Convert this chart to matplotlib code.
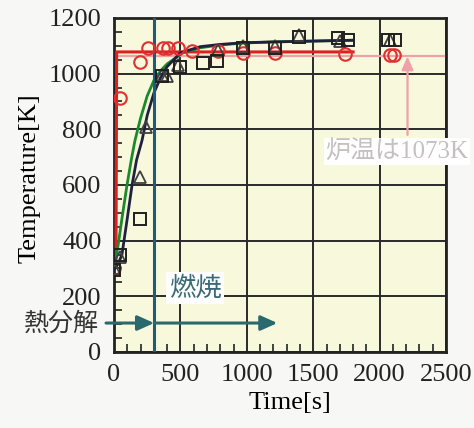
import numpy as np
import matplotlib.pyplot as plt

plt.rcParams['font.family'] = ['Liberation Serif', 'Noto Sans CJK JP']

# 測定値
t_circle = [0, 45, 196, 256, 370, 407, 483, 590, 785, 973, 1214, 1742, 2080, 2110]
T_circle = [300, 913, 1043, 1093, 1093, 1093, 1093, 1080, 1080, 1075, 1075, 1070, 1068, 1068]

t_square = [0, 45, 196, 362, 498, 671, 777, 973, 1214, 1395, 1690, 1765, 2066, 2119]
T_square = [295, 350, 478, 990, 1025, 1040, 1044, 1093, 1093, 1133, 1129, 1122, 1122, 1122]

t_tri = [0, 45, 196, 240, 362, 400, 483, 785, 973, 1214, 1395, 1700, 2080]
T_tri = [300, 340, 630, 810, 995, 990, 1030, 1085, 1098, 1098, 1138, 1118, 1122]

# 計算値
t_black = [0, 30, 60, 100, 136, 170, 211, 250, 300, 350, 400, 500, 650, 800, 973, 1200, 1400, 1600, 1800]
T_black = [295, 315, 350, 480, 600, 690, 760, 850, 930, 985, 1025, 1075, 1097, 1105, 1111, 1114, 1116, 1118, 1120]
t_green = [0, 30, 60, 98, 130, 158, 200, 250, 300, 350, 400, 475, 520, 650, 800, 973, 1200, 1400, 1600, 1800]
T_green = [300, 380, 480, 600, 690, 760, 840, 920, 975, 1010, 1035, 1060, 1075, 1093, 1103, 1110, 1114, 1116, 1118, 1120]
t_red = [0, 15, 20, 1800]
T_red = [300, 330, 1078, 1078]

furnace_T = 1062
t_switch = 302

fig = plt.figure(figsize=(4.74, 4.28), dpi=100)
fig.patch.set_facecolor('#f7f7f5')
ax = fig.add_axes([0.2405, 0.1776, 0.7005, 0.7804])
ax.set_facecolor('#f8f8dc')

ax.axhline(furnace_T, color='#f0a0a8', lw=1.6, zorder=2)
ax.plot(t_red, T_red, color='#e02020', lw=2.2, zorder=3)
ax.plot(t_green, T_green, color='#1a8a2a', lw=2.0, zorder=4)
ax.plot(t_black, T_black, color='#202040', lw=2.0, zorder=4)

ax.plot(t_circle, T_circle, 'o', ms=9, mfc='none', mec='#e03030', mew=1.5, zorder=5)
ax.plot(t_tri, T_tri, '^', ms=9, mfc='none', mec='#404040', mew=1.3, zorder=5)
ax.plot(t_square, T_square, 's', ms=9, mfc='none', mec='#202020', mew=1.4, zorder=5)

ax.axvline(t_switch, color='#1f5c78', lw=2.2, zorder=4)

# 矢印
ax.annotate('', xy=(t_switch, 104), xytext=(-60, 104), annotation_clip=False,
            arrowprops=dict(arrowstyle='-|>,head_length=1.0,head_width=0.45',
                            color='#2a6a6e', lw=2.2, shrinkA=0, shrinkB=0), zorder=6)
ax.annotate('', xy=(1230, 104), xytext=(t_switch, 104),
            arrowprops=dict(arrowstyle='-|>,head_length=1.0,head_width=0.45',
                            color='#2a6a6e', lw=2.2, shrinkA=0, shrinkB=0), zorder=6)
ax.text(611, 230, '燃焼', family=['Noto Sans CJK JP'], fontsize=19, color='#3a6a78',
        ha='center', va='center', zorder=6,
        bbox=dict(facecolor='white', edgecolor='none', pad=2))
ax.text(-115, 100, '熱分解', family=['Noto Sans CJK JP'], fontsize=18, color='#333333',
        ha='right', va='center', zorder=6)

ax.annotate('', xy=(2210, furnace_T), xytext=(2210, 780),
            arrowprops=dict(arrowstyle='-|>,head_length=0.8,head_width=0.35',
                            color='#f0a0a8', lw=1.6, shrinkA=0, shrinkB=0), zorder=6)
ax.text(1590, 720, '炉温は1073K', family=['Liberation Serif', 'Noto Sans CJK JP'],
        fontsize=18, color='#c4c0c0', ha='left', va='center', zorder=7, clip_on=False,
        bbox=dict(facecolor='white', edgecolor='none', pad=1))

ax.set_xlim(0, 2500)
ax.set_ylim(0, 1200)
ax.set_xticks(np.arange(0, 2501, 500))
ax.set_yticks(np.arange(0, 1201, 200))
ax.set_xticks(np.arange(0, 2501, 100), minor=True)
ax.set_yticks(np.arange(0, 1201, 50), minor=True)
ax.grid(True, which='major', color='#2a2a2a', lw=1.4, zorder=1)
ax.set_axisbelow(True)
ax.tick_params(which='both', direction='in', colors='#222222', labelsize=19, length=6, width=1.2)
ax.tick_params(which='major', length=0, pad=9)
for s in ax.spines.values():
    s.set_linewidth(2)
    s.set_color('#222222')

ax.set_xlabel('Time[s]', fontsize=19)
ax.set_ylabel('Temperature[K]', fontsize=19)
ax.xaxis.set_label_coords(0.53, -0.12)
ax.yaxis.set_label_coords(-0.22, 0.52)

fig.savefig('out.png', dpi=100)
